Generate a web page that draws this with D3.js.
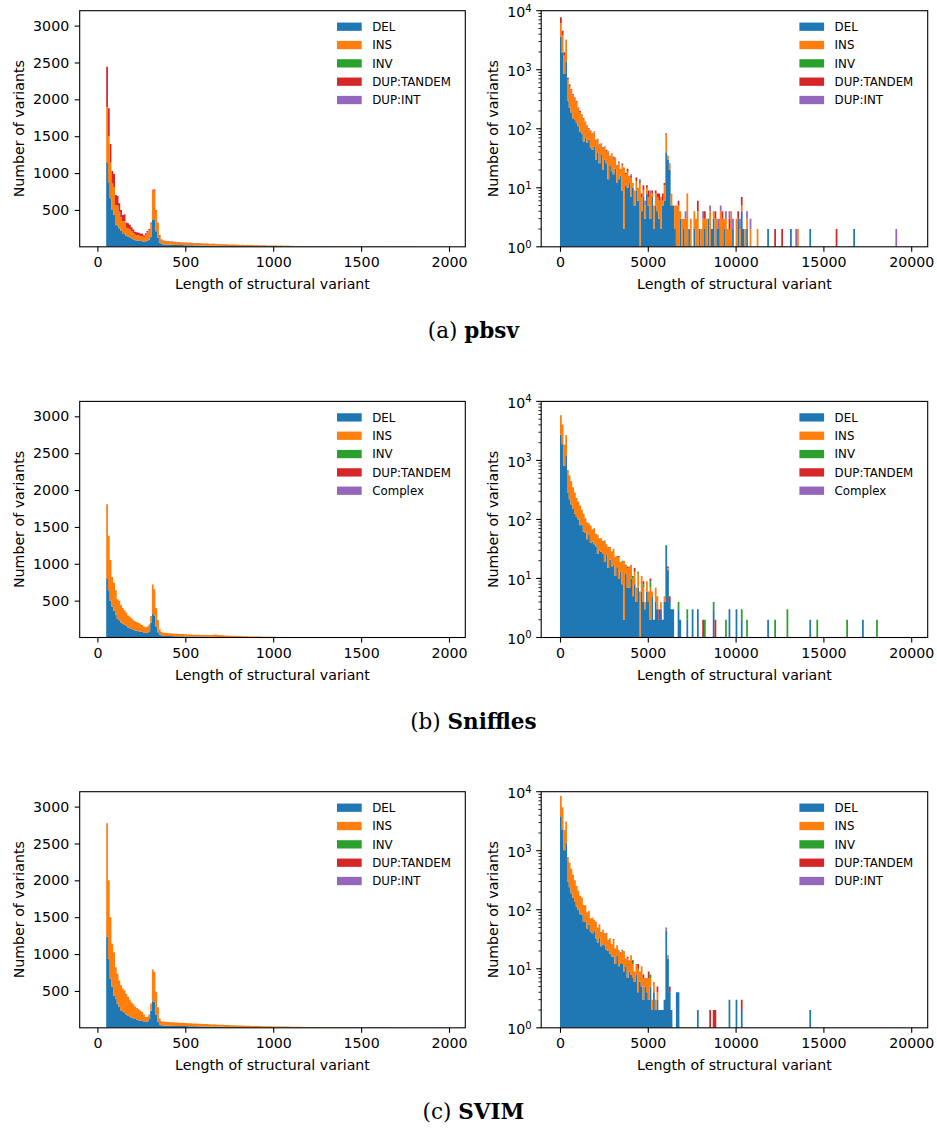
<!DOCTYPE html>
<html>
<head>
<meta charset="utf-8">
<script src="https://cdn.jsdelivr.net/npm/d3@7"></script>
<style>
  body { margin: 0; background: #fff; }
  svg { display: block; }
</style>
</head>
<body>
<svg id="fig" width="937" height="1130"></svg>
<script>
// ---------------- data ----------------
const seriesColors = ["#1f77b4", "#ff7f0e", "#2ca02c", "#d62728", "#9467bd"];
const labelsPbsv = ["DEL", "INS", "INV", "DUP:TANDEM", "DUP:INT"];
const labelsSniffles = ["DEL", "INS", "INV", "DUP:TANDEM", "Complex"];
const labelsSvim = ["DEL", "INS", "INV", "DUP:TANDEM", "DUP:INT"];

const shortXTicks = [0, 500, 1000, 1500, 2000];
const shortYTicks = [500, 1000, 1500, 2000, 2500, 3000];
const longXTicks = [0, 5000, 10000, 15000, 20000];
const longYTicks = [1, 10, 100, 1000, 10000];

// short-range histograms: 10 bp bins starting at 50 bp
const shortBinStart = 50, shortBinWidth = 10;
// long-range histograms: 100 bp bins starting at 0
const longBinStart = 0, longBinWidth = 100;

// pbsv, 50-2000 bp
const pbsvShortDEL = [
  1146,875,660,500,430,300,290,250,215,185, 180,145,140,130,115,102,90,86,84,80,
  76,68,75,85,100,140,365,372,210,120, 60,40,31,30,30,28,27,27,26,25,
  25,24,23,24,22,22,21,21,20,20, 19,19,18,18,17,17,16,17,15,15,
  15,14,14,13,14,13,12,12,12,11, 11,11,10,11,10,10,9,10,9,9,
  9,8,9,8,8,8,7,8,7,7, 7,7,6,7,6,6,6,6,5,6,
  5,5,5,5,5,4,5,4,4,4, 4,4,4,3,4,3,4,3,3,3,
  3,3,3,3,2,3,2,3,2,2, 2,2,2,2,2,2,2,2,2,1,
  2,2,1,2,1,2,1,1,2,1, 1,1,1,1,2,1,1,1,1,1,
  1,1,1,1,1,0,1,1,1,1, 1,1,1,0,1,1,1,0,1,1,
  0,1,1,1,0,1,0,1,1,0, 1,1,0,1,0
];
const pbsvShortINS = [
  746,623,484,358,380,263,268,225,185,157, 168,115,114,110,98,86,73,72,72,68,
  68,64,88,110,122,175,398,396,280,195, 87,52,47,45,44,43,41,42,39,38,
  37,36,36,34,33,33,31,32,30,30, 29,28,29,27,27,26,26,25,24,25,
  23,24,22,23,21,22,20,21,19,20, 19,18,19,17,18,17,16,17,15,16,
  15,15,14,15,13,14,13,12,13,12, 12,11,12,11,10,11,10,10,9,10,
  9,9,9,8,9,8,8,8,7,8, 7,7,7,6,7,6,6,6,6,5,
  6,5,5,5,5,4,5,4,4,4, 4,4,4,4,3,4,3,3,3,3,
  3,3,3,3,3,2,3,2,3,2, 2,2,3,2,2,2,2,2,2,2,
  2,1,2,2,1,2,1,2,1,1, 2,1,1,1,2,1,1,1,1,1,
  1,1,1,1,1,0,1,1,1,1, 1,0,1,1,1
];
const pbsvShortDUP = [
  550,380,250,170,180,140,132,115,100,88, 92,70,66,60,52,47,42,40,36,34,
  32,20,22,20,18,15,12,12,10,10, 8,6,6,6,5,6,5,5,5,5,
  4,5,4,4,4,4,4,3,4,3, 3,3,3,3,3,2,3,2,2,3,
  2,2,2,2,2,2,1,2,2,1, 2,1,1,2,1,1,1,1,1,1,
  1,1,1,0,1,1,1,0,1,1, 1,0,1,1,0,1,0,1,0,1
];

// Sniffles, 50-2000 bp
const snifflesShortDEL = [
  803,640,500,420,360,310,250,235,205,185, 170,155,135,125,115,102,95,90,84,80,
  74,66,62,68,85,200,320,300,150,70, 40,30,24,22,22,20,19,19,18,17,
  17,16,15,16,14,14,13,13,12,12, 12,11,11,10,11,10,9,10,9,9,
  9,8,9,8,8,7,8,7,7,6, 7,6,6,6,5,6,5,5,5,4,
  5,4,4,4,4,3,4,3,3,3, 3,3,3,2,3,2,2,2,2,2,
  2,2,2,1,2,1,2,1,1,1, 1,1,1,1,1,1,1,1,0,1,
  1,0,1,1,0,1,0,1,0,1, 0,1,0,0,1,0,1,0,0,1,
  0,0,1,0,0,1,0,0,0,1, 0,0,0,1,0,0,0,0,1,0,
  0,0,1,0,0,0,0,0,0,1, 0,0,0,0,1,0,0,0,0,0,
  0,1,0,0,0,0,0,0,1,0, 0,0,0,0,1
];
const snifflesShortINS = [
  1004,741,552,400,384,330,270,265,235,215, 200,185,165,155,145,133,125,120,111,105,
  96,84,78,82,90,90,400,356,250,166, 70,45,42,41,40,38,37,36,36,34,
  33,32,32,31,30,29,28,28,27,26, 26,25,25,24,24,23,24,23,24,25,
  26,28,30,27,25,23,22,20,19,18, 17,17,16,16,15,14,14,13,13,12,
  12,11,11,10,10,10,9,9,8,8, 8,8,7,7,7,7,6,6,6,6,
  6,5,5,5,5,5,4,5,4,4, 4,4,4,3,4,3,3,3,3,3,
  3,3,2,3,2,2,2,2,2,2, 2,2,2,1,2,1,2,1,1,1,
  1,1,1,1,1,1,1,1,1,1, 1,1,0,1,1,1,0,1,1,0,
  1,0,1,1,0,1,0,1,0,1, 0,1,0,1,0,1,0,0,1,0,
  1,0,0,1,0,0,1,0,0,1, 0,0,1,0,0
];

// SVIM, 50-2000 bp
const svimShortDEL = [
  1239,936,665,558,438,394,326,281,236,215, 200,180,165,150,140,128,118,110,104,98,
  92,85,80,85,120,230,360,355,180,80, 45,35,32,30,31,29,28,28,27,26,
  26,25,24,25,23,23,22,22,21,21, 20,20,19,19,18,18,17,17,16,16,
  15,16,15,14,14,13,13,12,12,12, 11,11,11,10,10,10,9,10,9,9,
  9,8,8,8,8,7,8,7,7,7, 7,6,7,6,6,6,6,5,6,5,
  5,5,5,5,4,5,4,4,4,4, 4,4,3,4,3,3,3,3,3,3,
  3,3,2,3,2,3,2,2,2,2, 2,2,2,2,2,1,2,2,1,2,
  1,2,1,1,2,1,1,1,1,1, 1,1,1,1,1,1,1,1,1,0,
  1,1,1,0,1,1,0,1,1,1, 0,1,1,0,1,0,1,1,0,1,
  1,0,1,0,1,1,0,1,0,1, 0,1,0,1,0
];
const svimShortINS = [
  1537,1064,835,582,588,428,406,361,342,318, 310,280,255,230,205,192,172,160,146,137,
  123,95,65,65,60,100,430,405,310,200, 80,55,52,51,50,49,48,48,47,46,
  46,45,44,43,43,42,41,40,40,39, 38,37,37,36,35,35,34,33,33,32,
  31,31,30,29,29,28,27,27,26,25, 25,24,24,23,22,22,21,21,20,20,
  19,19,18,18,17,17,16,16,15,15, 15,14,14,14,13,13,13,12,12,12,
  11,11,11,11,10,10,10,10,9,9, 9,9,8,8,8,8,8,7,7,7,
  7,7,6,6,6,6,6,6,5,5, 5,5,5,5,5,4,4,4,4,4,
  4,4,4,3,3,3,3,3,3,3, 3,3,3,3,2,3,2,2,2,2,
  2,2,2,2,2,2,2,1,2,2, 1,2,1,1,2,1,1,1,1,1,
  1,1,1,1,1,1,0,1,1,1, 1,0,1,1,0
];

// pbsv, 0-20000 bp (dense bins 0..109, isolated bins as [bin, count])
const pbsvLongDEL = [
  3611,1950,846,1398,300,230,185,150,140,125, 110,88,82,60,72,58,66,48,44,50,
  30,40,26,36,20,30,26,14,24,19, 17,21,12,14,16,9,2,11,10,12,
  7,10,5,9,6,1,4,7,3,8, 5,3,7,2,5,4,3,2,5,6,
  40,30,20,5,5,2,0,1,3,0, 2,0,1,2,1,0,2,0,1,2,
  0,1,2,0,3,1,2,3,1,2, 2,1,1,2,1,0,1,0,2,0,
  1,3,1,4,2,1,2,0,1,0
];
const pbsvLongDELFar = [[118,2],[122,1],[131,2],[134,1],[142,2],[167,2]];
const pbsvLongINS = [
  2591,1865,885,1719,380,300,260,220,185,160, 112,104,86,86,55,52,32,42,38,36,
  32,26,26,20,26,18,16,26,9,18, 14,12,11,12,5,15,20,6,8,4,
  8,2,4,4,4,11,3,2,2,2, 2,5,1,3,3,3,3,5,1,5,
  40,4,5,3,0,3,5,4,1,3, 1,3,7,0,2,0,2,3,3,0,
  2,2,1,3,0,3,0,1,2,1, 0,3,2,1,2,2,1,4,0,0,
  2,0,1,1,0,1,1,0,1,0
];
const pbsvLongINSFar = [[112,2],[135,2]];
const pbsvLongINV = [[0,10],[1,8],[2,4],[3,5],[4,3],[5,2],[6,2],[7,1],[9,1],[11,1],[13,1],[16,1],
  [19,1],[20,1],[25,1],[28,1],[33,1],[38,1],[45,1]];
const pbsvLongDUP = [[0,1530],[1,753],[2,249],[3,90],[4,45],[5,30],[6,20],[7,15],[8,12],[9,10],
  [10,8],[11,7],[12,6],[13,5],[14,5],[15,4],[16,3],[17,3],[18,2],[19,3],[20,2],[21,2],[22,2],
  [23,1],[24,2],[25,1],[26,2],[27,1],[28,1],[29,1],[30,2],[32,1],[33,1],[35,1],[37,1],[38,2],
  [40,1],[43,2],[46,1],[47,2],[49,1],[50,2],[52,1],[54,1],[55,1],[56,2],[58,2],[59,1],[60,3],
  [61,1],[67,1],[78,2],[82,1],[88,1],[92,1],[96,1],[101,1],[103,2],[122,1],[126,2],[157,2]];
const pbsvLongINT = [[0,20],[1,15],[2,8],[3,6],[4,4],[5,3],[6,3],[7,2],[8,2],[9,1],[10,2],[12,1],
  [14,1],[15,1],[18,1],[22,1],[24,1],[27,1],[30,1],[35,1],[40,1],[45,1],[48,1],[51,1],[60,2],
  [62,1],[71,1],[81,1],[85,1],[90,1],[91,1],[94,1],[96,1],[98,1],[102,1],[106,1],[108,1],
  [134,1],[191,2]];

// Sniffles, 0-20000 bp
const snifflesLongDEL = [
  2723,1885,806,1185,280,220,180,150,125,110, 100,80,82,62,60,46,56,40,42,38,
  35,26,30,28,26,19,25,15,21,16, 17,11,15,10,13,8,2,12,7,7,
  10,5,8,4,7,1,6,4,3,6, 4,2,5,2,4,3,2,3,2,4,
  36,14,4,3,3,0,0,3,2,0, 0,0,2,0,0,3,0,0,3,0,
  0,0,0,0,0,0,0,3,0,0, 0,0,0,0,0,0,3,0,0,0,
  3,0,0,2,0,0,0,0,0,0
];
const snifflesLongDELFar = [[118,2],[142,2],[172,2]];
const snifflesLongINS = [
  3081,2165,1024,1497,400,330,260,200,160,120, 100,92,64,62,44,44,30,38,26,32,
  22,28,18,20,16,24,13,19,12,13, 14,12,9,13,6,11,18,4,8,9,
  7,5,5,3,5,5,5,3,1,3, 2,5,1,0,3,2,0,1,0,1,
  0,1
];
const snifflesLongINSFar = [];
const snifflesLongINV = [[0,5],[1,4],[2,3],[3,3],[4,2],[5,1],[6,1],[8,1],[10,1],[13,1],[17,1],
  [21,1],[25,1],[30,1],[35,1],[37,1],[41,1],[44,1],[47,1],[51,2],[60,1],[67,1],[72,1],[82,2],
  [87,1],[94,2],[103,1],[106,2],[122,2],[129,3],[146,2],[163,2],[180,2]];
const snifflesLongDUP = [[0,15],[1,10],[2,6],[3,4],[4,3],[5,2],[6,2],[7,1],[9,1],[11,1],[14,1],
  [19,1],[24,1],[28,1],[33,1],[38,1],[42,2],[47,1],[51,1],[56,1],[61,1],[62,1],[81,2],[88,2]];
const snifflesLongComplex = [[0,3],[1,2],[2,1],[3,1]];

// SVIM, 0-20000 bp
const svimLongDEL = [
  3836,2287,1020,1375,300,240,190,160,135,112, 100,84,82,62,64,48,56,42,40,44,
  33,28,34,24,26,25,21,20,18,16, 16,12,17,11,12,12,9,11,7,9,
  8,7,6,8,4,6,5,3,5,4, 3,5,2,4,2,3,2,2,2,3,
  45,15,4,2,0,0,4,4,0,0, 0,0,0,0,0,0,0,0,2,0,
  0,0,0,0,0,0,0,1,0,0, 0,0,0,0,0,0,3,0,0,0,
  3,0,0,2,0,0,0,0,0,0
];
const svimLongDELFar = [[142,2]];
const svimLongINS = [
  4606,3135,1215,1730,480,380,300,230,180,140, 108,88,78,58,54,42,40,30,32,24,
  30,22,20,18,20,14,18,11,15,10, 14,10,8,10,6,8,11,4,8,5,
  9,5,3,4,6,3,6,4,2,3, 4,2,1,2,1,1,0,0,0,0,
  2,1
];
const svimLongINSFar = [];
const svimLongINV = [[0,3],[1,2],[2,1],[3,1],[5,1],[14,1],[30,1],[35,1],[41,1],[51,1]];
const svimLongDUP = [[0,20],[1,12],[2,6],[3,4],[4,3],[5,2],[6,2],[8,1],[10,1],[12,1],[15,1],
  [18,1],[22,1],[26,1],[30,1],[34,1],[38,1],[41,1],[44,2],[47,1],[50,2],[55,1],[62,1],[85,2],
  [87,1],[88,2],[103,1]];
const svimLongINT = [[0,10],[1,6],[2,3],[3,2],[4,1],[6,1],[9,1],[12,1],[22,1],[25,1],[60,3],[61,1]];

// ---------------- helpers ----------------
// merge a dense per-bin array with [bin, count] pairs into one per-bin array
function binsOf(dense, pairs) {
  const out = dense.slice();
  (pairs || []).forEach(([b, c]) => {
    while (out.length <= b) out.push(0);
    out[b] = (out[b] || 0) + c;
  });
  return out;
}

const panels = [
  { row: 0, caption: ["(a) ", "pbsv"], labels: labelsPbsv,
    short: [pbsvShortDEL, pbsvShortINS, [], pbsvShortDUP, []],
    long: [binsOf(pbsvLongDEL, pbsvLongDELFar), binsOf(pbsvLongINS, pbsvLongINSFar),
           binsOf([], pbsvLongINV), binsOf([], pbsvLongDUP), binsOf([], pbsvLongINT)] },
  { row: 1, caption: ["(b) ", "Sniffles"], labels: labelsSniffles,
    short: [snifflesShortDEL, snifflesShortINS, [], [], []],
    long: [binsOf(snifflesLongDEL, snifflesLongDELFar), binsOf(snifflesLongINS, snifflesLongINSFar),
           binsOf([], snifflesLongINV), binsOf([], snifflesLongDUP), binsOf([], snifflesLongComplex)] },
  { row: 2, caption: ["(c) ", "SVIM"], labels: labelsSvim,
    short: [svimShortDEL, svimShortINS, [], [], []],
    long: [binsOf(svimLongDEL, svimLongDELFar), binsOf(svimLongINS, svimLongINSFar),
           binsOf([], svimLongINV), binsOf([], svimLongDUP), binsOf([], svimLongINT)] }
];

// ---------------- layout ----------------
const FONT = "DejaVu Sans, Verdana, sans-serif";
const TICK_FS = 14.2, LEGEND_FS = 11.8;
const rowOffsets = [0, 390.7, 781];
const boxTop = 10.7, boxBottom = 246.8;
const leftBox = { x0: 79.7, x1: 465.3 };
const rightBox = { x0: 541.2, x1: 927.7 };

const svg = d3.select("#fig");
let clipId = 0;

function stackBars(g, series, binStart, binWidth, x, y, floor) {
  const n = d3.max(series, s => s.length);
  const cum = new Array(n).fill(0);
  series.forEach((s, si) => {
    let d = "";
    for (let b = 0; b < n; b++) {
      const c = s[b] || 0;
      if (!c) continue;
      const lo = cum[b], hi = lo + c;
      cum[b] = hi;
      const xa = x(binStart + b * binWidth), xb = x(binStart + (b + 1) * binWidth);
      const ya = y(Math.max(lo, floor)), yb = y(Math.max(hi, floor));
      if (ya - yb <= 0) continue;
      d += `M${xa},${ya}H${xb}V${yb}H${xa}Z`;
    }
    if (d) g.append("path").attr("d", d).attr("fill", seriesColors[si]);
  });
}

function legend(g, labels, box, top) {
  const hx = box.x1 - 128.3;
  labels.forEach((lab, i) => {
    const cy = top + 16 + 18.33 * i;
    g.append("rect").attr("x", hx).attr("y", cy - 4.15)
      .attr("width", 24.7).attr("height", 8.3).attr("fill", seriesColors[i]);
    g.append("text").attr("x", hx + 35.2).attr("y", cy + 4.3)
      .attr("font-family", FONT).attr("font-size", LEGEND_FS).attr("fill", "#000")
      .text(lab);
  });
}

function frameAndLabels(g, box, top, bottom) {
  g.append("rect").attr("x", box.x0).attr("y", top)
    .attr("width", box.x1 - box.x0).attr("height", bottom - top)
    .attr("fill", "none").attr("stroke", "#000").attr("stroke-width", 1.1);
  g.append("text").attr("x", (box.x0 + box.x1) / 2).attr("y", bottom + 42.5)
    .attr("text-anchor", "middle").attr("font-family", FONT).attr("font-size", TICK_FS)
    .text("Length of structural variant");
}

function styleAxis(sel) {
  sel.select(".domain").remove();
  sel.selectAll(".tick line").attr("stroke", "#000").attr("stroke-width", 1.1);
  sel.selectAll(".tick text").attr("fill", "#000");
  sel.attr("font-family", FONT).attr("font-size", TICK_FS);
}

function drawShort(p) {
  const off = rowOffsets[p.row];
  const top = boxTop + off, bottom = boxBottom + off;
  const x = d3.scaleLinear().domain([0, 2000]).range([97.4, 449]);
  const y = d3.scaleLinear().domain([0, 3000]).range([bottom, bottom - 3000 * 0.07373]);
  const g = svg.append("g");
  const id = "clip" + (clipId++);
  g.append("clipPath").attr("id", id).append("rect")
    .attr("x", leftBox.x0).attr("y", top).attr("width", leftBox.x1 - leftBox.x0).attr("height", bottom - top);
  const bars = g.append("g").attr("clip-path", `url(#${id})`);
  stackBars(bars, p.short, shortBinStart, shortBinWidth, x, y, 0);

  g.append("g").attr("transform", `translate(0,${bottom})`)
    .call(d3.axisBottom(x).tickValues(shortXTicks).tickSize(5).tickPadding(5.5).tickFormat(d3.format("d")))
    .call(styleAxis);
  g.append("g").attr("transform", `translate(${leftBox.x0},0)`)
    .call(d3.axisLeft(y).tickValues(shortYTicks).tickSize(5).tickPadding(5.5).tickFormat(d3.format("d")))
    .call(styleAxis);

  frameAndLabels(g, leftBox, top, bottom);
  g.append("text").attr("transform", `translate(24.2,${(top + bottom) / 2}) rotate(-90)`)
    .attr("text-anchor", "middle").attr("font-family", FONT).attr("font-size", TICK_FS)
    .text("Number of variants");
  legend(g, p.labels, leftBox, top);
}

function drawLong(p) {
  const off = rowOffsets[p.row];
  const top = boxTop + off, bottom = boxBottom + off;
  const x = d3.scaleLinear().domain([0, 20000]).range([560, 911.2]);
  const y = d3.scaleLog().domain([1, 10000]).range([bottom, top]);
  const g = svg.append("g");
  const id = "clip" + (clipId++);
  g.append("clipPath").attr("id", id).append("rect")
    .attr("x", rightBox.x0).attr("y", top).attr("width", rightBox.x1 - rightBox.x0).attr("height", bottom - top);
  const bars = g.append("g").attr("clip-path", `url(#${id})`);
  stackBars(bars, p.long, longBinStart, longBinWidth, x, y, 1);

  g.append("g").attr("transform", `translate(0,${bottom})`)
    .call(d3.axisBottom(x).tickValues(longXTicks).tickSize(5).tickPadding(5.5).tickFormat(d3.format("d")))
    .call(styleAxis);

  // log y axis: major ticks with 10^n labels, minor ticks at 2..9
  const ya = g.append("g");
  longYTicks.forEach((v, i) => {
    const yy = y(v);
    ya.append("line").attr("x1", rightBox.x0 - 5).attr("x2", rightBox.x0)
      .attr("y1", yy).attr("y2", yy).attr("stroke", "#000").attr("stroke-width", 1.1);
    const t = ya.append("text").attr("x", rightBox.x0 - 9.5).attr("y", yy + 6.4)
      .attr("text-anchor", "end").attr("font-family", FONT).attr("font-size", TICK_FS).attr("fill", "#000");
    t.append("tspan").text("10");
    t.append("tspan").attr("dy", -5.6).attr("font-size", 10).text(String(Math.round(Math.log10(v))));
    if (i < longYTicks.length - 1) {
      for (let m = 2; m <= 9; m++) {
        const ym = y(v * m);
        ya.append("line").attr("x1", rightBox.x0 - 2.8).attr("x2", rightBox.x0)
          .attr("y1", ym).attr("y2", ym).attr("stroke", "#000").attr("stroke-width", 0.85);
      }
    }
  });

  frameAndLabels(g, rightBox, top, bottom);
  g.append("text").attr("transform", `translate(498,${(top + bottom) / 2}) rotate(-90)`)
    .attr("text-anchor", "middle").attr("font-family", FONT).attr("font-size", TICK_FS)
    .text("Number of variants");
  legend(g, p.labels, rightBox, top);
}

panels.forEach(p => {
  drawShort(p);
  drawLong(p);
  const off = rowOffsets[p.row];
  const cap = svg.append("text").attr("x", 473.4).attr("y", 338.3 + off)
    .attr("text-anchor", "middle").attr("font-family", "DejaVu Serif, serif")
    .attr("font-size", 21.5).attr("fill", "#000");
  cap.append("tspan").text(p.caption[0]);
  cap.append("tspan").attr("font-weight", "bold").text(p.caption[1]);
});
</script>
</body>
</html>
